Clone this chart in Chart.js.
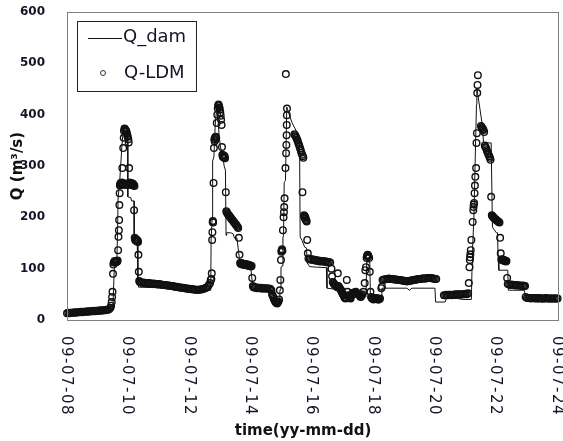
<!DOCTYPE html>
<html>
<head>
<meta charset="utf-8">
<script src="https://cdn.jsdelivr.net/npm/chart.js@4.4.1/dist/chart.umd.min.js"></script>
<style>
    html, body { margin: 0; padding: 0; background: #fff; }
    #wrap { width: 563px; height: 441px; }
</style>
</head>
<body>
<div id="wrap"><canvas id="chart" width="563" height="441"></canvas></div>
<script>
// time axis is in hours from 09-07-08 00:00, one label every 2 days
const dateLabels = ['09-07-08', '09-07-10', '09-07-12', '09-07-14', '09-07-16',
    '09-07-18', '09-07-20', '09-07-22', '09-07-24'];
const hoursPerLabel = 48;
const qTicks = [0, 100, 200, 300, 400, 500, 600];

// Q_dam, [hour, m3/s]
const qDam = [
    [0, 13], [10, 15], [20, 17], [30, 18], [35, 19], [36, 30], [37, 100], [38, 110], [39, 118], [39.5, 160],
    [40, 240], [41, 260], [42, 300], [43, 340], [44, 368], [46, 366], [47.5, 362], [47.6, 240], [50, 238],
    [50.5, 232], [52.5, 232], [52.6, 150], [55, 148], [55.5, 72], [56, 64], [70, 63],
    [80, 62], [90, 60], [100, 58], [112.5, 58],
    [112.8, 156], [113.5, 195], [114, 310], [115, 318], [116, 380], [117, 409], [117.5, 419], [118, 405],
    [119, 360], [120, 340], [121, 325], [122, 318], [123, 300], [124, 292], [124.5, 165], [125, 170],
    [128, 170], [130, 168], [131, 160], [133, 160], [135, 118], [136, 110], [138, 105], [140, 100],
    [144, 98], [145.5, 62], [150, 60], [160, 58],
    [161, 57], [162, 35], [164, 33], [166, 34], [166.6, 55], [167, 60], [167.5, 103], [168.5, 105],
    [169, 160], [169.5, 165], [170, 268], [171, 272], [172, 415], [176, 385], [182, 356], [182.5, 162],
    [184, 155], [186, 142], [187.5, 140], [188, 111], [190, 104], [195, 103], [203, 102], [203.5, 62],
    [210, 60], [212, 58], [214, 50], [218, 45], [222, 45], [226, 48], [230, 45], [234, 45], [234.6, 113],
    [237, 113], [237.5, 45], [242, 42], [246, 42], [246.5, 62], [266, 62], [268, 58], [270, 62], [288, 62],
    [288.5, 35], [296, 35], [297, 42], [305, 42], [310, 40], [316.5, 40],
    [317, 100], [317.5, 142], [318.5, 200], [319.5, 312], [320.5, 420], [320.8, 452], [321.5, 440],
    [325.3, 376], [326, 345], [332, 345], [333, 181], [334, 177], [336, 170], [337, 170], [337.5, 117],
    [338, 97], [345, 97], [345.5, 58], [358, 58], [359, 39], [384, 39]
];

// Q-LDM, [hour, m3/s]
const qLdm = [
    [0, 13], [1, 14], [2, 13], [3, 14], [4, 14], [5, 14], [6, 15], [7, 14], [8, 15], [9, 15], [10, 15],
    [11, 16], [12, 15], [13, 16], [14, 16], [15, 16], [16, 17], [17, 16], [18, 17], [19, 17], [20, 17],
    [21, 18], [22, 17], [23, 18], [24, 18], [25, 18], [26, 19], [27, 18], [28, 19], [29, 19], [30, 19],
    [31, 20], [32, 20], [33, 21], [34, 24],
    [34.5, 28], [35, 35], [35.3, 45], [35.6, 55], [36, 90], [36.3, 108], [36.6, 112], [37, 113], [37.3, 115],
    [37.6, 113], [38, 112], [38.3, 114], [38.6, 113], [39, 115], [39.3, 114], [39.6, 116],
    [40, 136], [40.3, 162], [40.6, 175], [40.8, 195], [41, 224], [41.2, 247], [41.4, 262], [41.7, 265],
    [42, 267], [42.3, 264], [42.6, 266], [43, 268], [43.3, 296], [43.6, 266], [44, 335], [44.2, 265],
    [44.4, 355], [44.6, 368], [44.8, 263], [45, 373], [45.3, 372], [45.5, 266], [45.8, 370], [46, 369],
    [46.2, 264], [46.5, 367], [46.8, 364], [47, 265], [47.2, 360], [47.5, 357], [47.8, 263], [48, 352],
    [48.3, 346], [48.6, 296], [49, 268], [49.4, 266], [49.8, 264], [50.2, 267], [50.6, 265], [51, 263],
    [51.4, 266], [51.8, 262], [52.2, 264], [52.5, 214], [52.8, 261], [53, 160], [53.3, 157], [53.6, 155],
    [54, 158], [54.3, 154], [54.6, 156], [55, 153], [55.3, 155], [55.6, 152], [55.9, 127], [56.2, 94],
    [56.5, 76],
    [57, 74], [58, 73], [59, 72], [60, 73], [61, 72], [62, 72], [63, 71], [64, 72], [65, 71], [66, 71],
    [67, 70], [68, 71], [69, 70], [70, 70], [71, 69], [72, 70], [73, 69], [74, 69], [75, 68], [76, 68],
    [77, 68], [78, 67], [79, 67], [80, 67], [81, 66], [82, 66], [83, 66], [84, 65], [85, 65], [86, 65],
    [87, 64], [88, 64], [89, 63], [90, 63], [91, 63], [92, 62], [93, 62], [94, 61], [95, 61], [96, 61],
    [97, 60], [98, 60], [99, 60], [100, 59], [101, 59], [102, 59], [103, 59], [104, 59], [105, 60],
    [106, 60], [107, 61], [108, 62], [109, 63], [110, 65], [111, 68], [112, 72],
    [112.5, 78], [113, 80], [113.3, 91], [113.6, 156], [113.8, 171], [114, 191], [114.2, 193], [114.4, 190],
    [114.7, 267], [115, 335], [115.3, 352], [115.6, 348], [115.9, 356], [116.2, 351], [116.5, 357],
    [116.8, 354], [117.2, 384], [117.6, 400], [118, 412], [118.3, 418], [118.6, 420], [119, 417],
    [119.3, 414], [119.6, 410], [120, 404], [120.3, 398], [120.6, 390], [121, 380], [121.3, 337],
    [121.6, 322], [121.9, 318], [122.2, 321], [122.5, 317], [122.8, 320], [123.1, 316], [123.4, 319],
    [123.7, 315], [124.3, 249],
    [124.7, 212], [125, 210], [125.5, 208], [126, 206], [126.5, 204], [127, 203], [127.5, 201], [128, 199],
    [128.5, 198], [129, 196], [129.5, 195], [130, 193], [130.5, 191], [131, 190], [131.5, 188], [132, 186],
    [132.5, 185], [133, 183], [133.5, 181], [134, 179], [134.5, 160], [135, 127],
    [135.5, 111], [136, 109], [136.5, 111], [137, 108], [137.5, 110], [138, 108], [138.5, 109], [139, 107],
    [139.5, 109], [140, 107], [140.5, 108], [141, 106], [141.5, 108], [142, 106], [142.5, 107], [143, 105],
    [143.5, 106], [144, 104], [144.5, 105], [145, 82], [145.5, 66],
    [146, 64], [147, 63], [148, 64], [149, 62], [150, 63], [151, 62], [152, 63], [153, 61], [154, 62],
    [155, 62], [156, 61], [157, 62], [158, 61], [159, 61], [160, 58],
    [160.5, 50], [161, 47], [161.5, 44], [162, 41], [162.5, 38], [163, 36], [163.5, 34], [164, 33],
    [164.5, 32], [165, 34], [165.5, 36], [166, 40],
    [166.6, 58], [167, 78], [167.5, 117], [167.8, 133], [168, 136], [168.3, 138], [168.6, 135], [169, 175],
    [169.5, 200], [169.8, 210], [170, 220], [170.3, 237], [171, 296], [171.3, 479], [171.5, 325],
    [171.7, 341], [171.9, 360], [172, 380], [172.1, 399], [172.2, 412],
    [178, 362], [178.5, 360], [179, 358], [179.5, 355], [180, 352], [180.5, 349], [181, 345], [181.5, 342],
    [182, 338], [182.5, 334], [183, 330], [183.5, 326], [184, 322], [184.3, 249], [184.6, 319], [185, 316],
    [185.5, 204], [185.8, 200], [186.1, 202], [186.4, 197], [186.7, 199], [187, 195], [187.3, 194],
    [187.6, 192], [188, 156], [188.5, 130],
    [189, 120], [190, 118], [191, 119], [192, 117], [193, 118], [194, 116], [195, 117], [196, 115],
    [197, 116], [198, 114], [199, 115], [200, 114], [201, 115], [202, 113], [203, 114], [204, 112],
    [205, 113], [206, 112],
    [207, 100], [207.5, 85], [208, 74], [208.5, 72], [209, 70], [209.5, 68], [210, 68], [210.5, 66],
    [211, 66], [211.5, 64], [212, 91], [212.5, 66], [213, 64], [213.5, 62], [214, 60], [214.5, 58],
    [215, 55], [215.5, 52], [216, 50], [216.5, 48], [217, 45], [217.5, 43], [218, 42], [218.5, 44],
    [219, 78], [219.5, 55], [220, 48], [220.5, 46], [221, 44], [221.5, 43], [222, 42], [222.5, 47],
    [223, 50], [223.5, 52], [224, 53], [224.5, 51], [225, 52], [225.5, 54], [226, 55], [226.5, 53],
    [227, 52], [227.5, 51], [228, 50], [228.5, 49], [229, 48], [229.5, 46], [230, 45], [230.5, 47],
    [231, 50], [232, 55], [233, 72], [233.5, 97], [234, 103], [234.5, 121], [234.8, 124], [235, 125],
    [235.3, 127], [235.6, 126], [236, 124], [236.5, 121], [237, 94], [237.5, 55], [238, 45], [238.5, 43],
    [239, 42], [239.5, 41], [240, 40], [240.5, 42], [241, 41], [241.5, 43], [242, 43], [242.5, 41],
    [243, 42], [243.5, 40], [244, 40], [244.5, 41], [245, 42], [246, 62], [246.5, 65],
    [247, 78], [248, 79], [249, 79], [250, 80], [251, 80], [252, 81], [253, 80], [254, 80], [255, 80],
    [256, 79], [257, 79], [258, 79], [259, 78], [260, 78], [261, 78], [262, 77], [263, 77], [264, 76],
    [265, 76], [266, 75], [267, 76], [268, 76], [269, 77], [270, 77], [271, 78], [272, 78], [273, 79],
    [274, 79], [275, 80], [276, 80], [277, 80], [278, 81], [279, 81], [280, 81], [281, 81], [282, 82],
    [283, 82], [284, 82], [285, 82], [286, 81], [287, 81], [288, 80], [289, 80],
    [295, 48], [296, 48], [297, 49], [298, 48], [299, 49], [300, 49], [301, 48], [302, 49], [303, 49],
    [304, 50], [305, 49], [306, 50], [307, 50], [308, 49], [309, 50], [310, 50], [311, 50], [312, 51],
    [313, 50], [314, 52],
    [314.5, 72], [315, 103], [315.3, 117], [315.5, 122], [315.7, 128], [316, 136], [316.5, 156],
    [317.5, 191], [318, 214], [318.2, 220], [318.4, 225], [318.6, 228], [319, 247], [319.3, 262],
    [319.6, 279], [320.2, 296], [320.5, 345], [320.8, 364], [321.1, 442], [321.3, 458], [321.6, 477],
    [324, 378], [324.5, 376], [325, 374], [325.5, 372], [326, 370], [326.5, 366], [327, 340], [327.5, 337],
    [328, 335], [328.5, 331], [329, 328], [329.5, 325], [330, 322], [330.5, 319], [331, 316], [331.5, 312],
    [332, 240], [332.5, 204], [333, 202], [333.5, 201], [334, 199], [334.5, 198], [335, 197], [335.5, 196],
    [336, 195], [336.5, 194], [337, 193], [337.5, 192], [338, 191], [338.5, 190], [339, 160], [339.5, 130],
    [340, 118], [340.5, 117], [341, 118], [341.5, 116], [342, 117], [342.5, 115], [343, 116], [343.5, 114],
    [344, 115], [344.5, 82], [345, 70],
    [346, 69], [347, 68], [348, 69], [349, 68], [350, 68], [351, 67], [352, 68], [353, 67], [354, 67],
    [355, 67], [356, 66], [357, 67], [358, 66], [358.5, 66],
    [359, 45], [360, 43], [361, 43], [362, 43], [363, 42], [364, 43], [365, 43], [366, 42], [367, 43],
    [368, 42], [369, 42], [370, 43], [371, 42], [372, 42], [373, 42], [374, 42], [375, 43], [376, 42],
    [377, 42], [378, 42], [379, 42], [380, 42], [381, 42], [382, 42], [383, 42], [384, 42]
];

const toXY = pairs => pairs.map(([h, q]) => ({ x: h, y: q }));
const inkColor = '#141428';

// frame, turned date labels, x title and the boxed legend
const decor = {
    id: 'decor',
    afterDraw(chart) {
        const { ctx, chartArea: a, scales: { x } } = chart;
        ctx.save();
        ctx.strokeStyle = '#808080';
        ctx.lineWidth = 1;
        ctx.strokeRect(Math.round(a.left) + 0.5, Math.round(a.top) + 0.5,
            Math.round(a.right - a.left), Math.round(a.bottom - a.top));

        ctx.fillStyle = inkColor;
        ctx.font = '15px "DejaVu Sans"';
        ctx.textAlign = 'left';
        ctx.textBaseline = 'middle';
        ctx.letterSpacing = '1.5px';
        dateLabels.forEach((lab, i) => {
            const px = x.getPixelForValue(i * hoursPerLabel);
            ctx.save();
            ctx.translate(px - 1, a.bottom + 16);
            ctx.rotate(Math.PI / 2);
            ctx.fillText(lab, 0, 0);
            ctx.restore();
        });
        ctx.letterSpacing = '0px';

        ctx.font = 'bold 15px "DejaVu Sans"';
        ctx.textAlign = 'center';
        ctx.fillStyle = '#111';
        ctx.fillText('time(yy-mm-dd)', 303, 431);

        // legend
        ctx.fillStyle = '#fff';
        ctx.fillRect(77, 21, 119, 70);
        ctx.strokeStyle = '#222';
        ctx.strokeRect(77.5, 21.5, 119, 70);
        ctx.beginPath();
        ctx.moveTo(88, 38.5);
        ctx.lineTo(122, 38.5);
        ctx.strokeStyle = '#111';
        ctx.stroke();
        ctx.beginPath();
        ctx.arc(103, 73, 2.5, 0, Math.PI * 2);
        ctx.strokeStyle = '#333';
        ctx.stroke();
        ctx.font = '18px "DejaVu Sans"';
        ctx.textAlign = 'left';
        ctx.textBaseline = 'alphabetic';
        ctx.fillStyle = inkColor;
        ctx.fillText(chart.data.datasets[0].label, 123, 42);
        ctx.fillText(chart.data.datasets[1].label, 124, 78);
        ctx.restore();
    }
};

const noPad = s => { s.paddingTop = 0; s.paddingBottom = 0; s.paddingLeft = 0; s.paddingRight = 0; };

new Chart(document.getElementById('chart'), {
    type: 'line',
    data: {
        datasets: [
            { label: 'Q_dam', data: toXY(qDam), borderColor: '#111', borderWidth: 1, pointRadius: 0, tension: 0, clip: false },
            { label: 'Q-LDM', data: toXY(qLdm), showLine: false, pointStyle: 'circle', pointRadius: 3.3,
              pointBorderWidth: 1.4, pointBorderColor: '#111', pointBackgroundColor: 'rgba(255,255,255,0)', clip: false }
        ]
    },
    options: {
        responsive: false,
        devicePixelRatio: 1,
        animation: false,
        layout: { padding: { top: 12, right: 5, left: 0, bottom: 0 } },
        plugins: { legend: { display: false }, tooltip: { enabled: false } },
        scales: {
            x: {
                type: 'linear', min: 0, max: (dateLabels.length - 1) * hoursPerLabel,
                grid: { display: false }, border: { display: false },
                ticks: { display: false },
                afterFit: s => { s.height = 121; noPad(s); }
            },
            y: {
                min: qTicks[0], max: qTicks[qTicks.length - 1],
                grid: { display: false }, border: { display: false },
                afterBuildTicks: s => { s.ticks = qTicks.map(v => ({ value: v })); },
                ticks: { padding: 14, color: inkColor, font: { family: 'DejaVu Sans', size: 12, weight: 'bold' } },
                title: { display: true, text: 'Q (m³/s)', color: '#111', padding: { top: 9, bottom: 0 },
                         font: { family: 'DejaVu Sans', size: 15, weight: 'bold' } },
                afterFit: s => { s.width = 67; noPad(s); }
            }
        }
    },
    plugins: [decor]
});
</script>
</body>
</html>
